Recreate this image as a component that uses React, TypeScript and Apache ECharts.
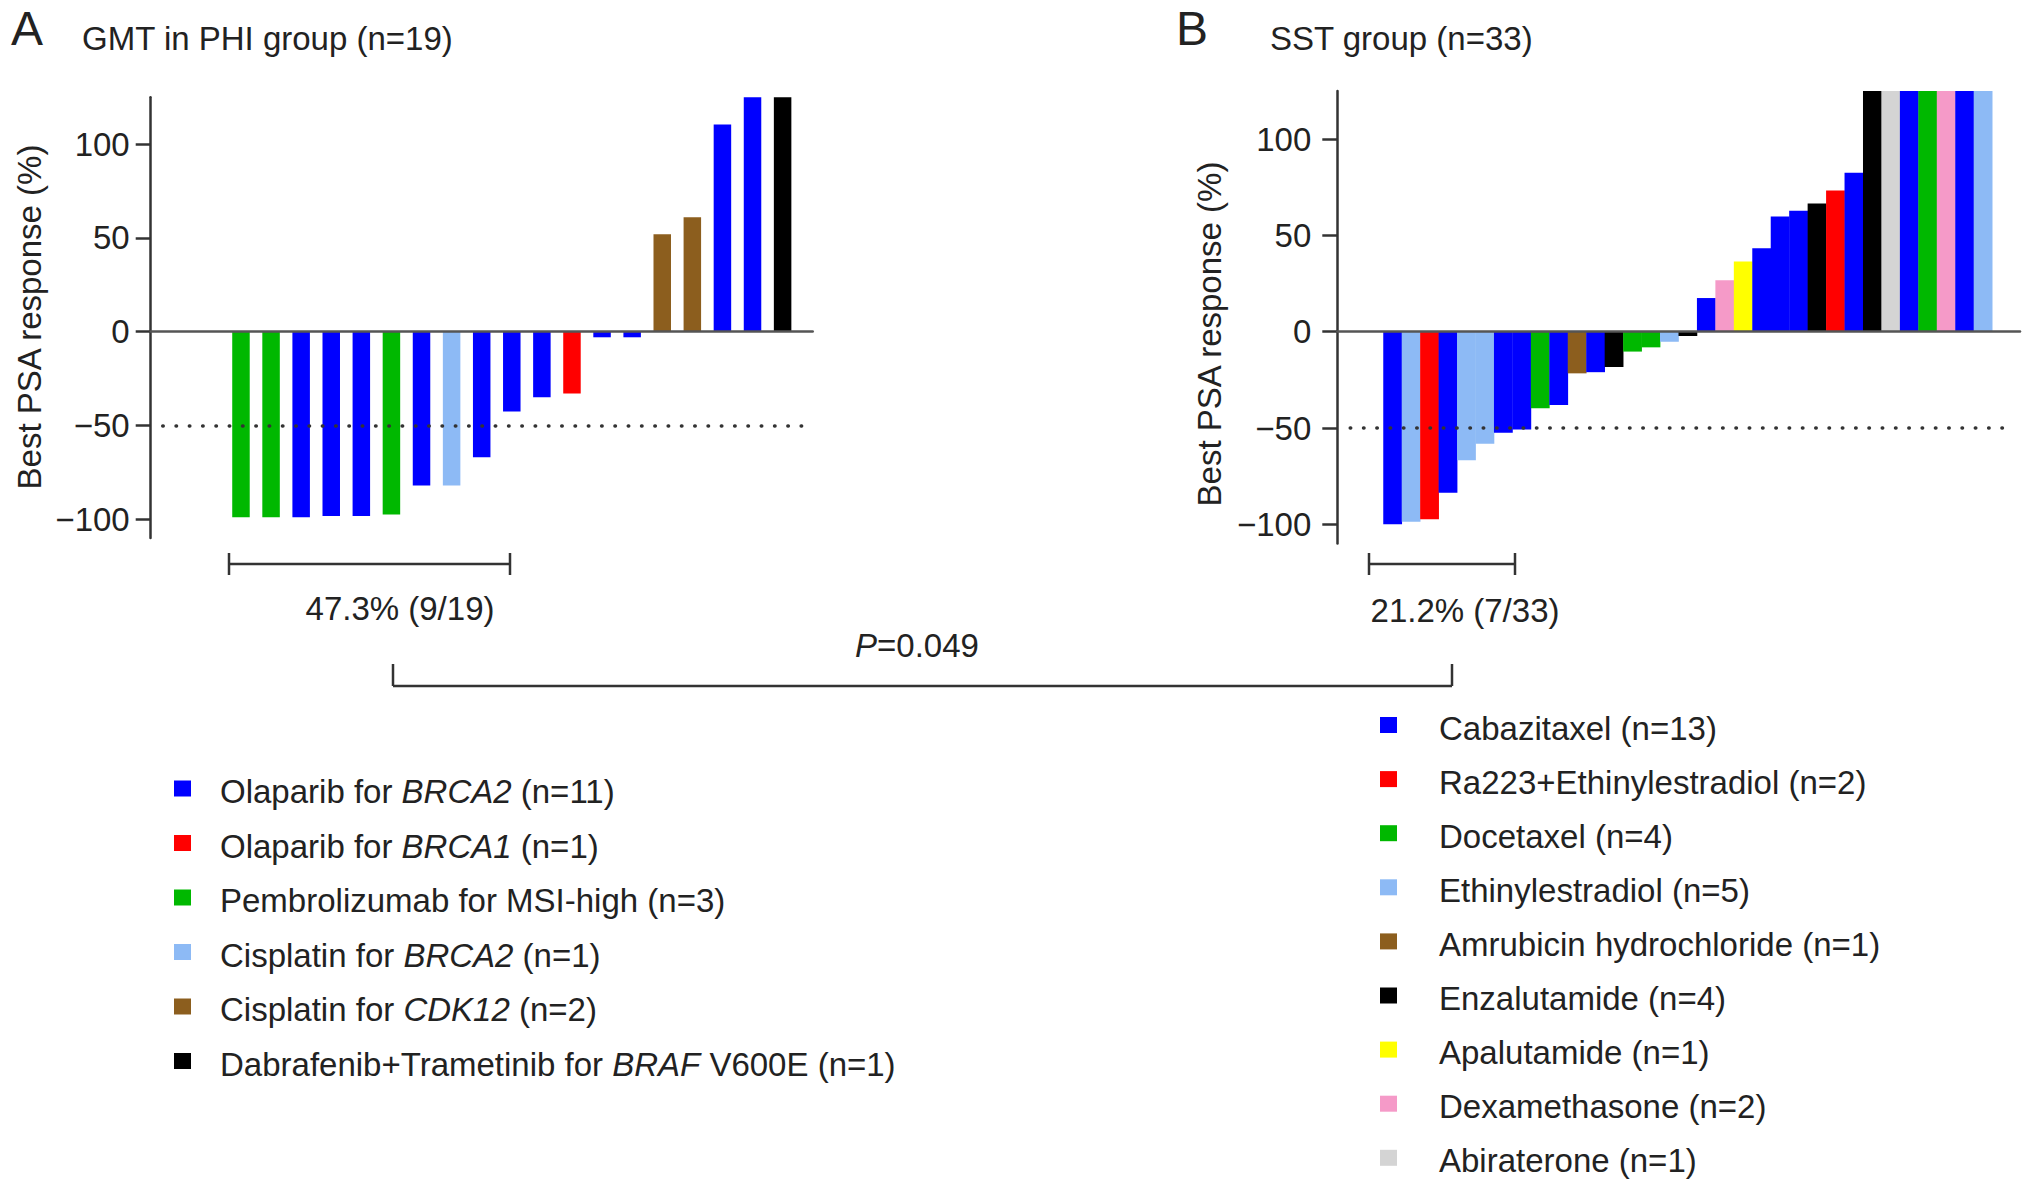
import React, { useEffect, useRef } from "react";
import * as echarts from "echarts";

const FONT = "'Liberation Sans', Arial, Helvetica, sans-serif";
const TEXT = "#222222";
const AXIS = "#333333";
const FS = 33;

// ---------- Panel A: GMT in PHI group ----------
const aTitle = "GMT in PHI group (n=19)";
const aValues = [-99, -99, -99, -98.3, -98.3, -97.5, -82, -82, -67, -42.6, -35, -33, -3, -3, 52, 61, 110.5, 125, 125];
const aGroups = [2, 2, 0, 0, 0, 2, 0, 3, 0, 0, 0, 1, 0, 0, 4, 4, 0, 0, 5];
const aLegend = [
  "Olaparib for {i|BRCA2} (n=11)",
  "Olaparib for {i|BRCA1} (n=1)",
  "Pembrolizumab for MSI-high (n=3)",
  "Cisplatin for {i|BRCA2} (n=1)",
  "Cisplatin for {i|CDK12} (n=2)",
  "Dabrafenib+Trametinib for {i|BRAF} V600E (n=1)",
];
const aColors = ["#0000FF", "#FF0000", "#00B800", "#8DBAF5", "#8C5E1E", "#000000"];
const aResponse = "47.3% (9/19)";

// ---------- Panel B: SST group ----------
const bTitle = "SST group (n=33)";
const bValues = [
  -100, -98.6, -97.4, -83.6, -66.7, -58.1, -52.4, -50.8, -39.7, -38.1, -21.6, -21, -18.3, -10.3, -8.1, -5.2, -2.2,
  17.5, 26.8, 36.5, 43.4, 59.8, 62.8, 66.6, 73.3, 82.6, 125, 125, 125, 125, 125, 125, 125,
];
const bGroups = [0, 3, 1, 0, 3, 3, 0, 0, 2, 0, 4, 0, 5, 2, 2, 3, 5, 0, 7, 6, 0, 0, 0, 5, 1, 0, 5, 8, 0, 2, 7, 0, 3];
const bLegend = [
  "Cabazitaxel (n=13)",
  "Ra223+Ethinylestradiol (n=2)",
  "Docetaxel (n=4)",
  "Ethinylestradiol (n=5)",
  "Amrubicin hydrochloride (n=1)",
  "Enzalutamide (n=4)",
  "Apalutamide (n=1)",
  "Dexamethasone (n=2)",
  "Abiraterone (n=1)",
];
const bColors = ["#0000FF", "#FF0000", "#00B800", "#8DBAF5", "#8C5E1E", "#000000", "#FFFF00", "#F59AC8", "#D4D4D4"];
const bResponse = "21.2% (7/33)";

const yTicks = [-100, -50, 0, 50, 100];
const yName = "Best PSA response (%)";
const threshold = -50;
const pText = "{i|P}=0.049";

function yAxisCfg(gridIndex: number, margin: number) {
  return {
    type: "value",
    gridIndex,
    min: -110,
    max: 125,
    axisLine: { show: true, onZero: false, lineStyle: { color: AXIS, width: 2.5 } },
    axisTick: { show: true, length: 15, lineStyle: { color: AXIS, width: 2.5 }, customValues: yTicks },
    axisLabel: {
      show: true,
      customValues: yTicks,
      margin,
      fontSize: FS,
      fontFamily: FONT,
      color: TEXT,
      formatter: (v: number) => String(v).replace("-", "\u2212"),
    },
    splitLine: { show: false },
  };
}

function xAxisCfg(gridIndex: number, min: number, max: number) {
  return {
    type: "value",
    gridIndex,
    min,
    max,
    z: 5,
    axisLine: { show: true, onZero: true, lineStyle: { color: "#555555", width: 2.5 } },
    axisTick: { show: false },
    axisLabel: { show: false },
    splitLine: { show: false },
  };
}

function legendGraphics(labels: string[], colors: string[], sqX: number, textX: number, y0: number, dy: number) {
  const els: any[] = [];
  labels.forEach((label, k) => {
    const y = y0 + k * dy;
    els.push({
      type: "rect",
      shape: { x: sqX, y: y - 11, width: 17, height: 16 },
      style: { fill: colors[k] },
    });
    els.push({
      type: "text",
      x: textX,
      y,
      style: {
        text: label,
        fontSize: FS,
        fontFamily: FONT,
        fill: TEXT,
        align: "left",
        verticalAlign: "middle",
        textAlign: "left",
        textVerticalAlign: "middle",
        rich: { i: { fontStyle: "italic", fontSize: FS, fontFamily: FONT, fill: TEXT } },
      },
    });
  });
  return els;
}

function txt(text: string, x: number, y: number, opts: any = {}) {
  const align = opts.align || "left";
  return {
    type: "text",
    x,
    y,
    rotation: opts.rotation || 0,
    style: {
      text,
      fontSize: opts.fontSize || FS,
      fontFamily: FONT,
      fill: TEXT,
      align,
      textAlign: align,
      verticalAlign: "middle",
      textVerticalAlign: "middle",
      rich: { i: { fontStyle: "italic", fontSize: opts.fontSize || FS, fontFamily: FONT, fill: TEXT } },
    },
  };
}

function ln(x1: number, y1: number, x2: number, y2: number) {
  return { type: "line", shape: { x1, y1, x2, y2 }, style: { stroke: AXIS, lineWidth: 2.5 } };
}

function bracket(x1: number, x2: number, y: number) {
  return [ln(x1, y, x2, y), ln(x1, y - 11, x1, y + 11), ln(x2, y - 11, x2, y + 11)];
}

export default function App() {
  const ref = useRef<HTMLDivElement>(null);
  useEffect(() => {
    if (!ref.current) return;
    const chart = echarts.init(ref.current, undefined, { renderer: "svg" });
    const dotted = {
      silent: true,
      symbol: "none",
      label: { show: false },
      lineStyle: { color: AXIS, width: 3.5, type: [0.5, 12.8], cap: "round" },
    };
    const option: any = {
      animation: false,
      backgroundColor: "#ffffff",
      grid: [
        { left: 150.7, top: 97.3, width: 662, height: 440.6 },
        { left: 1337.3, top: 91, width: 682.7, height: 452.6 },
      ],
      xAxis: [xAxisCfg(0, -2, 20), xAxisCfg(1, -2, 35)],
      yAxis: [yAxisCfg(0, 21), yAxisCfg(1, 26)],
      series: [
        {
          type: "bar",
          xAxisIndex: 0,
          yAxisIndex: 0,
          barWidth: 17.5,
          data: aValues.map((v, i) => ({ value: [i + 1, v], itemStyle: { color: aColors[aGroups[i]] } })),
          markLine: {
            ...dotted,
            data: [[{ coord: [-1.6, threshold] }, { coord: [19.9, threshold] }]],
          },
        },
        {
          type: "bar",
          xAxisIndex: 1,
          yAxisIndex: 1,
          barWidth: 18.8,
          data: bValues.map((v, i) => ({ value: [i + 1, v], itemStyle: { color: bColors[bGroups[i]] } })),
          markLine: {
            ...dotted,
            data: [[{ coord: [-1.3, threshold] }, { coord: [34.6, threshold] }]],
          },
        },
      ],
      graphic: [
        txt("A", 11, 28, { fontSize: 48 }),
        txt(aTitle, 82, 38.5),
        txt("B", 1176, 28, { fontSize: 48 }),
        txt(bTitle, 1270, 38.5),
        txt(yName, 29, 317, { align: "center", rotation: Math.PI / 2 }),
        txt(yName, 1209, 334, { align: "center", rotation: Math.PI / 2 }),
        ...bracket(229, 510, 564),
        ...bracket(1369, 1515, 564),
        txt(aResponse, 400, 608, { align: "center" }),
        txt(bResponse, 1465, 610, { align: "center" }),
        ln(393, 686, 1452, 686),
        ln(393, 664, 393, 686),
        ln(1452, 664, 1452, 686),
        txt(pText, 917, 645, { align: "center" }),
        ...legendGraphics(aLegend, aColors, 174, 220, 791.5, 54.5),
        ...legendGraphics(bLegend, bColors, 1380, 1439, 728, 54.1),
      ],
    };
    chart.setOption(option);
    return () => chart.dispose();
  }, []);
  return (
    <div
      ref={ref}
      style={{ position: "fixed", left: 0, top: 0, width: 2032, height: 1192, background: "#fff" }}
    />
  );
}
